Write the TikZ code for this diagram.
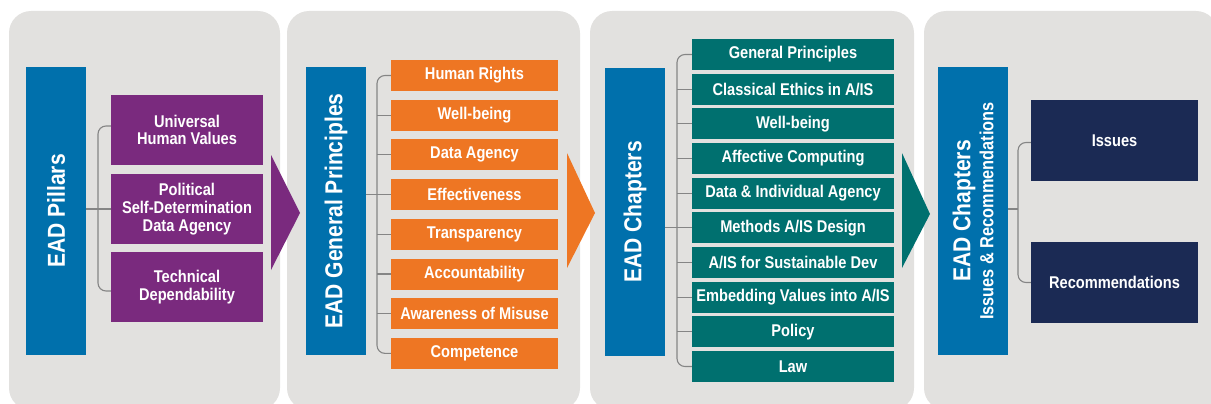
\documentclass[tikz,border=0pt]{standalone}
\usepackage{fontspec}
\setmainfont[FakeStretch=0.86]{Liberation Sans}
\definecolor{panelgray}{HTML}{E2E1DF}
\definecolor{barblue}{HTML}{0070AC}
\definecolor{eadpurple}{HTML}{7A2A7E}
\definecolor{eadorange}{HTML}{EE7623}
\definecolor{eadteal}{HTML}{00706F}
\definecolor{eadnavy}{HTML}{1B2A54}
\definecolor{linegray}{HTML}{858585}
\begin{document}
\begin{tikzpicture}[x=1pt,y=-1pt,
  panel/.style={fill=panelgray,draw=none,rounded corners=22pt},
  bar/.style={fill=barblue,text=white,inner sep=0pt,minimum width=288pt,rotate=90,
    font=\bfseries\fontsize{24.5}{26}\selectfont,align=center},
  item/.style={text=white,inner sep=0pt,align=center,font=\bfseries\fontsize{17}{17.7}\selectfont},
  pbox/.style={item,fill=eadpurple,minimum width=152pt,minimum height=70pt},
  obox/.style={item,fill=eadorange,minimum width=167pt,minimum height=31pt},
  tbox/.style={item,fill=eadteal,minimum width=202pt,minimum height=31pt},
  nbox/.style={item,fill=eadnavy,minimum width=167pt,minimum height=81pt},
  brack/.style={draw=linegray,line width=1.1pt,rounded corners=8pt},
  tick/.style={draw=linegray,line width=1.1pt}
]
\useasboundingbox (0,0) rectangle (1211,404);
% panels
\fill[panel] (9,11) rectangle (280,410);
\fill[panel] (287,11) rectangle (580,410);
\fill[panel] (590,11) rectangle (914,410);
\fill[panel] (924,11) rectangle (1218,410);

% ---- panel 1
\node[bar,minimum height=60pt] (bar1) at (56,211) {EAD Pillars};
\node[pbox] (p1) at (187,130) {Universal\\Human Values};
\node[pbox] (p2) at (187,209) {Political\\Self-Determination\\Data Agency};
\node[pbox] (p3) at (187,287) {Technical\\Dependability};
\coordinate (k1) at (98,209);
\draw[brack] ([yshift=4pt]p1.west) -| (k1) |- ([yshift=-4pt]p3.west);
\draw[tick] (bar1.south |- p2.west) -- (p2.west);

% ---- panel 2
\node[bar,minimum height=60pt] (bar2) at (336,211) {EAD General Principles};
\foreach \t [count=\i from 0] in {Human Rights,Well-being,Data Agency,Effectiveness,Transparency,Accountability,Awareness of Misuse,Competence}{
  \node[obox] (o\i) at (474.5,75.5+39.7*\i) {\t};
}
\coordinate (k2) at (377,194);
\draw[brack] (o0.west) -| (k2) |- (o7.west);
\foreach \i in {1,...,6}{\draw[tick] (k2 |- o\i.west) -- (o\i.west);}
\draw[tick] (bar2.south |- o3.west) -- (o3.west);

% ---- panel 3
\node[bar,minimum height=60pt] (bar3) at (635,212) {EAD Chapters};
\foreach \t [count=\i from 0] in {General Principles,Classical Ethics in A/IS,Well-being,Affective Computing,Data \& Individual Agency,Methods A/IS Design,A/IS for Sustainable Dev,Embedding Values into A/IS,Policy,Law}{
  \node[tbox] (t\i) at (793,54.5+34.67*\i) {\t};
}
\coordinate (k3) at (677,228);
\draw[brack] (t0.west) -| (k3) |- (t9.west);
\foreach \i in {1,...,8}{\draw[tick] (k3 |- t\i.west) -- (t\i.west);}
\draw[tick] (bar3.south |- t5.west) -- (t5.west);

% ---- panel 4
\node[bar,minimum height=70pt] (bar4) at (973,211) {EAD Chapters\\[-3pt]{\fontsize{19}{20}\selectfont Issues \& Recommendations}};
\node[nbox] (n1) at (1114.5,140.5) {Issues};
\node[nbox] (n2) at (1114.5,282.5) {Recommendations};
\coordinate (k4) at (1018,209);
\draw[brack] ([yshift=-2pt]n1.west) -| (k4) |- (n2.west);
\draw[tick] (bar4.south |- k4) -- (k4);

% arrows
\fill[eadpurple] (271,155) -- (300,213) -- (271,270) -- cycle;
\fill[eadorange] (567,153) -- (595,213) -- (567,268) -- cycle;
\fill[eadteal] (902,153) -- (930,214) -- (902,268) -- cycle;
\end{tikzpicture}
\end{document}
